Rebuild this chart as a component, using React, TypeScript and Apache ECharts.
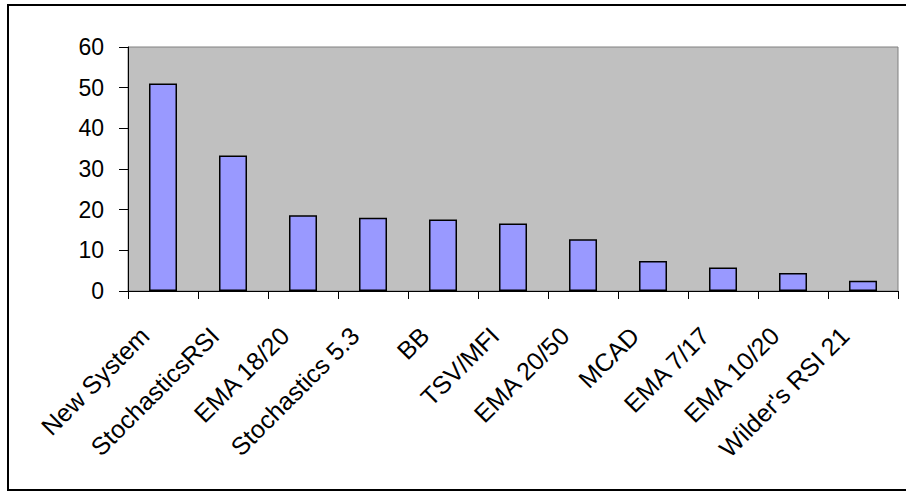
import React, { useEffect, useRef } from "react";
import * as echarts from "echarts";

const categories = [
  "New System",
  "StochasticsRSI",
  "EMA 18/20",
  "Stochastics 5.3",
  "BB",
  "TSV/MFI",
  "EMA 20/50",
  "MCAD",
  "EMA 7/17",
  "EMA 10/20",
  "Wilder's RSI 21",
];
const values = [51, 33.3, 18.6, 18.0, 17.6, 16.6, 12.7, 7.4, 5.8, 4.4, 2.5];
const yMin = 0;
const yMax = 60;
const yInterval = 10;

const FONT = "'Liberation Sans', Arial, sans-serif";

export default function App() {
  const ref = useRef<HTMLDivElement>(null);
  useEffect(() => {
    if (!ref.current) return;
    const chart = echarts.init(ref.current, null, { renderer: "svg" });
    chart.setOption({
      animation: false,
      backgroundColor: "#ffffff",
      textStyle: { fontFamily: FONT },
      graphic: [
        {
          type: "rect",
          shape: { x: 8, y: 5, width: 900, height: 485 },
          style: { fill: "none", stroke: "#000000", lineWidth: 2 },
          silent: true,
          z: 100,
        },
      ],
      grid: {
        left: 128,
        top: 47,
        width: 770,
        height: 244,
        show: true,
        backgroundColor: "#C0C0C0",
        borderColor: "#808080",
        borderWidth: 1,
        containLabel: false,
      },
      xAxis: {
        type: "category",
        data: categories,
        boundaryGap: true,
        axisLine: { show: true, lineStyle: { color: "#000000", width: 1 } },
        axisTick: {
          show: true,
          length: 8,
          alignWithLabel: false,
          interval: 0,
          lineStyle: { color: "#000000", width: 1 },
        },
        axisLabel: {
          interval: 0,
          rotate: 45,
          margin: 22,
          padding: [0, 26, 0, 0],
          fontSize: 25,
          color: "#000000",
          fontFamily: FONT,
        },
        splitLine: { show: false },
      },
      yAxis: {
        type: "value",
        min: yMin,
        max: yMax,
        interval: yInterval,
        axisLine: { show: true, lineStyle: { color: "#000000", width: 1 } },
        axisTick: {
          show: true,
          length: 9,
          lineStyle: { color: "#000000", width: 1 },
        },
        axisLabel: {
          margin: 24,
          fontSize: 23,
          color: "#000000",
          fontFamily: FONT,
        },
        splitLine: { show: false },
      },
      series: [
        {
          type: "bar",
          data: values,
          barWidth: "40%",
          itemStyle: {
            color: "#9999FF",
            borderColor: "#000000",
            borderWidth: 1.5,
          },
        },
      ],
    });
    return () => chart.dispose();
  }, []);
  return (
    <div
      ref={ref}
      style={{ position: "absolute", left: 0, top: 0, width: 906, height: 491 }}
    />
  );
}
